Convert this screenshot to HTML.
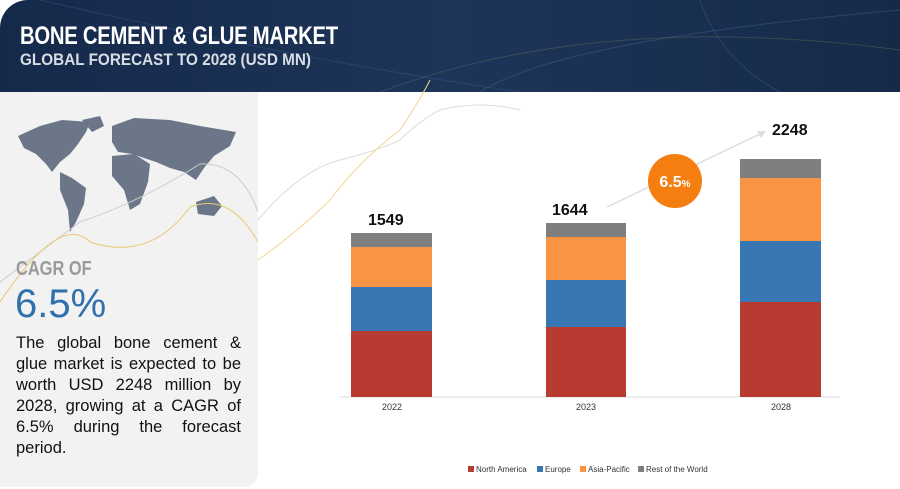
<!DOCTYPE html>
<html><head><meta charset="utf-8"><style>
body{margin:0;width:900px;height:489px;overflow:hidden;background:#fff;font-family:"Liberation Sans",sans-serif;position:relative}
.hdr{position:absolute;left:0;top:0;width:900px;height:92px;background:linear-gradient(90deg,#15294a,#1d3559 50%,#162a48);border-top-left-radius:28px;overflow:hidden}
.t1{position:absolute;left:20px;top:22px;color:#fff;font-weight:bold;font-size:25px;transform:scaleX(.81);transform-origin:left;letter-spacing:-.3px}
.t2{position:absolute;left:20px;top:50px;color:#d8dde4;font-weight:bold;font-size:17px;transform:scaleX(.9);transform-origin:left}
.left{position:absolute;left:0;top:92px;width:258px;height:395px;background:#f2f2f2;border-bottom-right-radius:14px}
.cagr{position:absolute;left:16px;top:258px;color:#9a9a9a;font-weight:bold;font-size:20px;transform:scaleX(.82);transform-origin:left}
.big{position:absolute;left:15px;top:282px;color:#2f70ad;font-size:40px;line-height:44px}
.p{position:absolute;left:16px;top:333px;width:225px;font-size:16.5px;line-height:21px;color:#111}
.p div{text-align:justify;text-align-last:justify;height:21px}
.p div.l{text-align-last:left}
.bar{position:absolute}
.lbl{position:absolute;font-size:16px;font-weight:bold;color:#111}
.yr{position:absolute;top:402px;font-size:9px;color:#333;width:80px;text-align:center}
.leg{position:absolute;top:465px;font-size:8px;color:#333}
.leg span{display:inline-block;width:6px;height:6px;margin-right:2px}
</style></head><body>
<div class="hdr">
<svg width="900" height="92" style="position:absolute;left:0;top:0"><path d="M40 0 Q300 60 520 92" stroke="#3a6a90" fill="none" stroke-width="1" opacity=".35"/><path d="M480 92 Q560 40 900 10" stroke="#5a86a8" fill="none" opacity=".3"/><path d="M700 0 Q720 60 780 92" stroke="#5a86a8" fill="none" opacity=".25"/><path d="M380 92 Q600 10 900 50" stroke="#9a9a60" fill="none" opacity=".25"/></svg>
<div class="t1">BONE CEMENT &amp; GLUE MARKET</div>
<div class="t2">GLOBAL FORECAST TO 2028 (USD MN)</div>
</div>
<div class="left">
<svg width="258" height="200" style="position:absolute;left:0;top:0" fill="#6b7789">
<path d="M18 44 L40 34 L62 28 L90 30 L86 40 L78 52 L70 62 L60 70 L52 80 L46 72 L36 62 L24 56 Z"/>
<path d="M82 28 L100 24 L104 34 L92 40 Z"/>
<path d="M60 80 L72 86 L86 96 L84 112 L76 130 L70 140 L68 118 L60 98 Z"/>
<path d="M112 34 L134 26 L170 28 L200 34 L236 40 L230 54 L214 64 L204 76 L196 88 L184 80 L170 76 L156 70 L144 66 L132 62 L118 60 L112 50 Z"/>
<path d="M112 64 L134 62 L150 72 L148 90 L140 112 L130 118 L124 98 L112 84 Z"/>
<path d="M196 110 L214 104 L222 114 L214 124 L198 122 Z"/>
</svg>
<svg width="258" height="395" style="position:absolute;left:0;top:0" fill="none"><path d="M0 190 Q40 160 80 130 Q140 110 200 72 Q240 70 258 120" stroke="#ccc"/><path d="M0 210 Q60 120 90 150 Q150 170 190 115 Q230 100 258 150" stroke="#e8c870"/></svg>
</div>
<div class="cagr">CAGR OF</div>
<div class="big">6.5%</div>
<div class="p"><div>The global bone cement &amp;</div><div>glue market is expected to be</div><div>worth USD 2248 million by</div><div>2028, growing at a CAGR of</div><div>6.5% during the forecast</div><div class="l">period.</div></div>
<svg width="900" height="489" style="position:absolute;left:0;top:0" fill="none"><path d="M258 220 Q300 170 340 160 Q380 150 400 140 Q420 120 440 110 Q480 100 520 110" stroke="#ddd"/><path d="M258 260 Q300 230 330 200 Q360 160 400 130 Q420 100 430 80" stroke="#f0d890"/>
<line x1="340" y1="397" x2="840" y2="397" stroke="#ddd"/>
<line x1="607" y1="207" x2="760" y2="134" stroke="#ddd" stroke-width="1.5"/><path d="M766 131 L757 131 L761 138 Z" fill="#ddd"/>
<circle cx="675" cy="181" r="27" fill="#f47f10"/>
<text x="675" y="187" fill="#fff" font-size="16" font-weight="bold" text-anchor="middle" font-family="Liberation Sans">6.5<tspan font-size="10">%</tspan></text></svg>
<div class="bar" style="left:351px;top:233px;width:81px;height:14px;background:#7f7f7f"></div>
<div class="bar" style="left:351px;top:247px;width:81px;height:40px;background:#fa9443"></div>
<div class="bar" style="left:351px;top:287px;width:81px;height:44px;background:#3876b4"></div>
<div class="bar" style="left:351px;top:331px;width:81px;height:66px;background:#b83b31"></div>
<div class="bar" style="left:546px;top:223px;width:80px;height:14px;background:#7f7f7f"></div>
<div class="bar" style="left:546px;top:237px;width:80px;height:43px;background:#fa9443"></div>
<div class="bar" style="left:546px;top:280px;width:80px;height:47px;background:#3876b4"></div>
<div class="bar" style="left:546px;top:327px;width:80px;height:70px;background:#b83b31"></div>
<div class="bar" style="left:740px;top:159px;width:81px;height:19px;background:#7f7f7f"></div>
<div class="bar" style="left:740px;top:178px;width:81px;height:63px;background:#fa9443"></div>
<div class="bar" style="left:740px;top:241px;width:81px;height:61px;background:#3876b4"></div>
<div class="bar" style="left:740px;top:302px;width:81px;height:95px;background:#b83b31"></div>
<div class="lbl" style="left:368px;top:212px">1549</div>
<div class="lbl" style="left:552px;top:202px">1644</div>
<div class="lbl" style="left:772px;top:122px">2248</div>
<div class="yr" style="left:352px">2022</div>
<div class="yr" style="left:546px">2023</div>
<div class="yr" style="left:741px">2028</div>
<div class="leg" style="left:468px"><span style="background:#b83b31"></span>North America</div>
<div class="leg" style="left:537px"><span style="background:#3876b4"></span>Europe</div>
<div class="leg" style="left:580px"><span style="background:#fa9443"></span>Asia-Pacific</div>
<div class="leg" style="left:638px"><span style="background:#7f7f7f"></span>Rest of the World</div>
</body></html>
